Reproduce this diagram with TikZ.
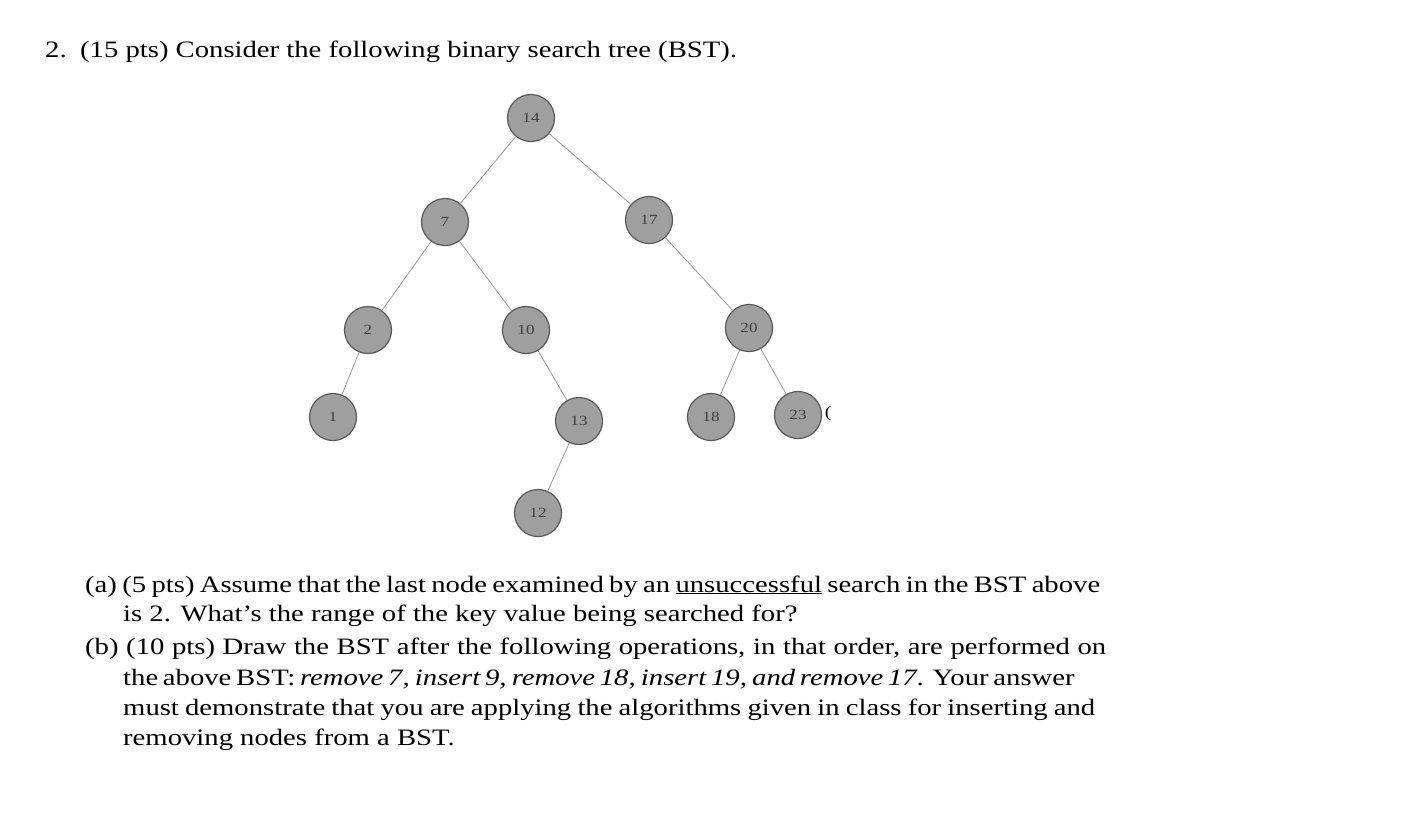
\documentclass[tikz,border=0pt]{standalone}
\usepackage{fontspec}
\setmainfont[FakeStretch=1.22]{Liberation Serif}
\begin{document}
\begin{tikzpicture}[x=1pt,y=-1pt,
  bst/.style={circle,minimum size=47pt,inner sep=0pt,fill=gray!75,draw=gray!70!black,line width=1.2pt,font=\fontsize{14}{14}\selectfont,text=black!75},
  edge/.style={draw=gray!80,line width=0.8pt},
  txt/.style={anchor=base west,inner sep=0pt,font=\fontsize{23.5}{30}\selectfont}]
\useasboundingbox (0,0) rectangle (1424,812);
\node[bst] (n14) at (531,118) {14};
\node[bst] (n7) at (445,222) {7};
\node[bst] (n17) at (649,220) {17};
\node[bst] (n2) at (368,330) {2};
\node[bst] (n10) at (526,330) {10};
\node[bst] (n20) at (749,328) {20};
\node[bst] (n1) at (333,417) {1};
\node[bst] (n13) at (579,421) {13};
\node[bst] (n18) at (711,417) {18};
\node[bst] (n23) at (798,415) {23};
\node[bst] (n12) at (538,513) {12};
\node[inner sep=0pt,font=\fontsize{16}{16}\selectfont] (par) at (828,414) {(};
\foreach \a/\b in {n14/n7,n14/n17,n7/n2,n7/n10,n17/n20,n2/n1,n10/n13,n20/n18,n20/n23,n13/n12}
  \draw[edge] (\a) -- (\b);
\node[txt] (t0) at (45,57) {2.};
\node[txt] (t1) at (80,57) {(15 pts) Consider the following binary search tree (BST).};
\node[txt] (a1) at (85,592) {\makebox[1015pt][s]{(a) (5 pts) Assume that the last node examined by an \underline{unsuccessful} search in the BST above}};
\node[txt] (a2) at (123,621) {is 2. What’s the range of the key value being searched for?};
\node[txt] (b1) at (85,654) {\makebox[1021pt][s]{(b) (10 pts) Draw the BST after the following operations, in that order, are performed on}};
\node[txt] (b2) at (123,685) {\makebox[947pt][s]{the above BST: \textit{remove 7, insert 9, remove 18, insert 19, and remove 17}. Your answer}};
\node[txt] (b3) at (123,715) {\makebox[972pt][s]{must demonstrate that you are applying the algorithms given in class for inserting and}};
\node[txt] (b4) at (123,745) {removing nodes from a BST.};
\end{tikzpicture}
\end{document}
